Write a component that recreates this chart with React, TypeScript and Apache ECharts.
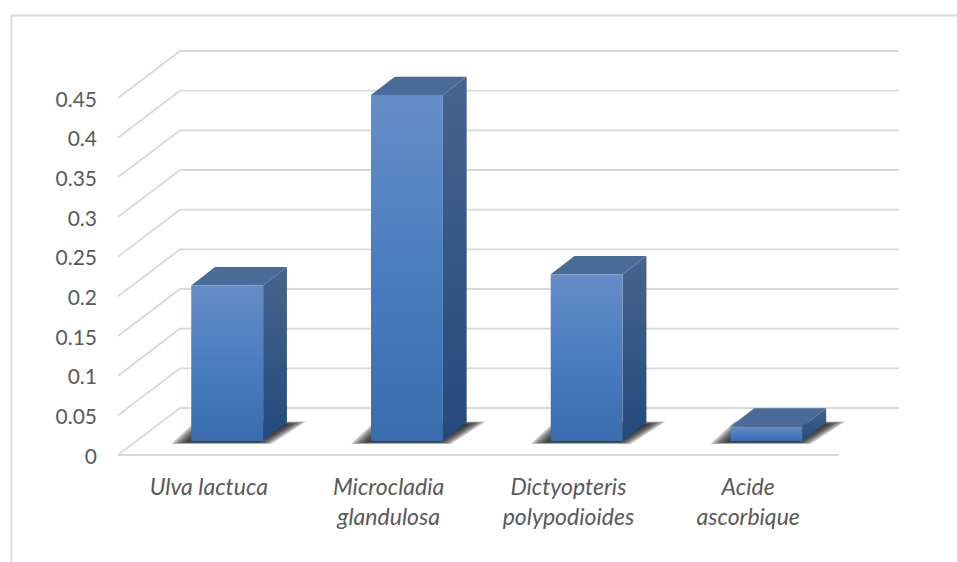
import React, { useEffect, useRef } from "react";
import * as echarts from "echarts";

const categories = ["Ulva lactuca", "Microcladia\nglandulosa", "Dictyopteris\npolypodioides", "Acide\nascorbique"];
const values = [0.196, 0.436, 0.21, 0.018];
const wallTicks = [0, 0.05, 0.1, 0.15, 0.2, 0.25, 0.3, 0.35, 0.4, 0.45];

// Projection of the chart's depth axis on the page, in pixels.
const WALL_DX = 61;
const WALL_DY = -47;
const BAR_NEAR = 0.3;
const BAR_FAR = 0.69;
const BAR_SHARE = 0.4;
const SHADOW_LAYERS = 8;
const LINE = "#d9d9d9";
const TEXT = "#595959";

function gradient(stops: [number, string][]) {
  return new echarts.graphic.LinearGradient(0, 0, 0, 1, stops.map(([offset, color]) => ({ offset, color })));
}

// Floor-to-wall gridline: runs back along the side and then across the wall.
function renderWallLine(params: any, api: any) {
  const { x, width } = params.coordSys;
  const y = api.coord([0, api.value(1)])[1];
  return {
    type: "polyline",
    silent: true,
    shape: { points: [[x - 1, y], [x + WALL_DX, y + WALL_DY], [x + width + WALL_DX, y + WALL_DY]] },
    style: { fill: "none", stroke: LINE, lineWidth: 1.8 },
  };
}

// Soft floor shadow, built from stacked translucent parallelograms.
function shadowLayers(l: number, r: number, b: number, dx: number, dy: number) {
  const layers = [];
  for (let k = 0; k < SHADOW_LAYERS; k++) {
    const s = k * 2;
    layers.push({
      type: "polygon",
      shape: {
        points: [
          [l - 20 + s * 1.4, b + 3 - s * 0.15],
          [l + 4 + s, b + dy - 1 + s * 0.2],
          [r + dx + 19 - s * 1.4, b + dy - 1 + s * 0.2],
          [r + 8 - s, b + 3 - s * 0.15],
        ],
      },
      style: { fill: "rgba(30,30,30,0.24)" },
    });
  }
  return layers;
}

// One extruded column: floor shadow, then the side, top and front faces.
function renderBar(_params: any, api: any) {
  const base = api.coord([api.value(0), 0]);
  const top = api.coord([api.value(0), api.value(1)]);
  const w = api.size([1, 0])[0] * BAR_SHARE;
  const ox = WALL_DX * BAR_NEAR;
  const oy = WALL_DY * BAR_NEAR;
  const dx = WALL_DX * (BAR_FAR - BAR_NEAR);
  const dy = WALL_DY * (BAR_FAR - BAR_NEAR);
  const l = base[0] - w / 2 + ox;
  const r = l + w;
  const b = base[1] + oy;
  const t = top[1] + oy;
  return {
    type: "group",
    silent: true,
    children: [
      ...shadowLayers(l, r, b, dx, dy),
      {
        type: "polygon",
        shape: { points: [[r, t], [r + dx, t + dy], [r + dx, b + dy], [r, b]] },
        style: { fill: gradient([[0, "#48648e"], [1, "#234a7d"]]) },
      },
      {
        type: "polygon",
        shape: { points: [[l, t], [l + dx, t + dy], [r + dx, t + dy], [r, t]] },
        style: { fill: "#4a6a97" },
      },
      {
        type: "rect",
        shape: { x: l, y: t, width: w, height: b - t },
        style: { fill: gradient([[0, "#678dc7"], [0.5, "#497dc0"], [1, "#396dae"]]) },
      },
    ],
  };
}

export default function App() {
  const ref = useRef<HTMLDivElement>(null);

  useEffect(() => {
    const chart = echarts.init(ref.current!, undefined, { renderer: "svg" });
    chart.setOption({
      animation: false,
      backgroundColor: "#ffffff",
      grid: { left: 119, top: 98, width: 719, height: 357, containLabel: false },
      xAxis: {
        type: "category",
        data: categories,
        axisTick: { show: false },
        axisLine: { lineStyle: { color: LINE, width: 1.8 } },
        axisLabel: {
          color: TEXT,
          fontFamily: "Lato",
          fontStyle: "italic",
          fontSize: 23,
          lineHeight: 30,
          margin: 16,
          interval: 0,
        },
      },
      yAxis: {
        type: "value",
        min: 0,
        max: 0.45,
        interval: 0.05,
        axisLine: { show: false },
        axisTick: { show: false },
        splitLine: { show: false },
        axisLabel: { color: TEXT, fontFamily: "Lato", fontSize: 21, margin: 22, padding: [6, 0, 0, 0] },
      },
      graphic: [
        {
          type: "polyline",
          silent: true,
          shape: { points: [[11.5, 562], [11.5, 15.5], [957, 15.5]] },
          style: { fill: "none", stroke: LINE, lineWidth: 1.8 },
        },
      ],
      series: [
        {
          type: "custom",
          renderItem: renderWallLine,
          data: wallTicks.map((t) => [0, t]),
          encode: { x: 0, y: 1 },
          silent: true,
          z: 1,
        },
        {
          type: "custom",
          renderItem: renderBar,
          data: values.map((v, i) => [i, v]),
          encode: { x: 0, y: 1 },
          silent: true,
          z: 2,
        },
      ],
    });
    return () => chart.dispose();
  }, []);

  return <div ref={ref} style={{ position: "absolute", left: 0, top: 0, width: 957, height: 562 }} />;
}
